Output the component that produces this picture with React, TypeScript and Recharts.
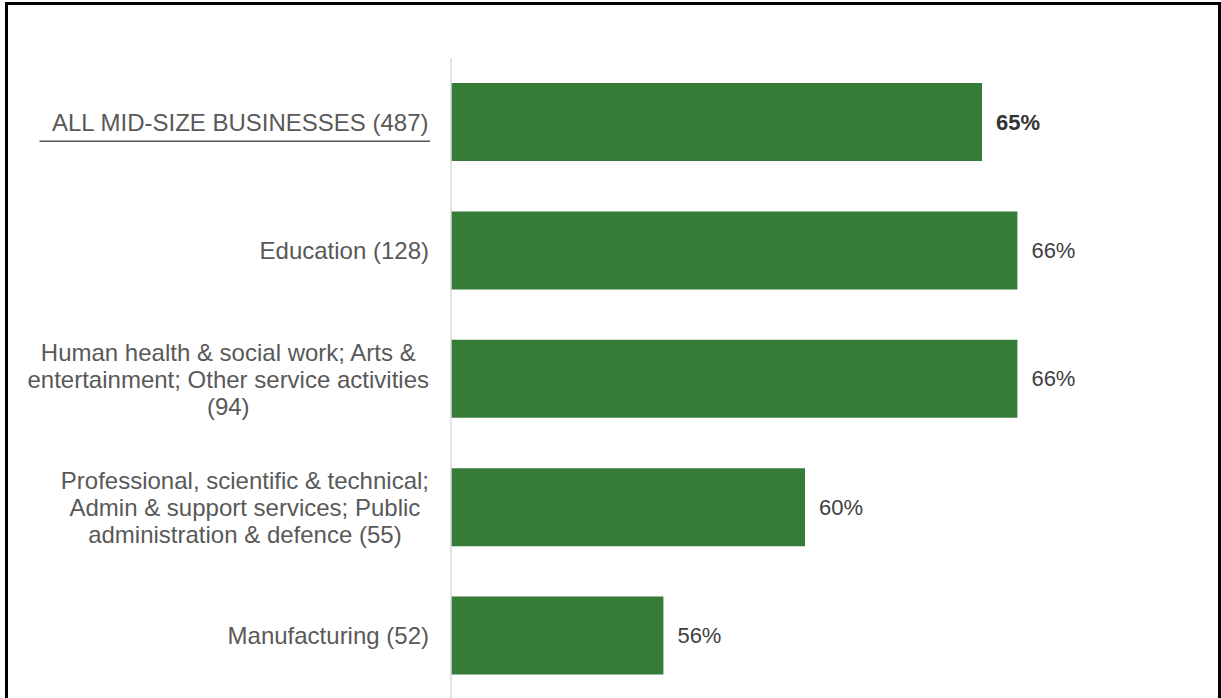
import { BarChart, Bar, XAxis, YAxis, LabelList } from "recharts";

// category labels, already broken into the lines the reference shows
const categories: string[][] = [
  ["ALL MID-SIZE BUSINESSES (487)"],
  ["Education (128)"],
  ["Human health & social work; Arts &", "entertainment; Other service activities", "(94)"],
  ["Professional, scientific & technical;", "Admin & support services; Public", "administration & defence (55)"],
  ["Manufacturing (52)"],
];
const values = [65, 66, 66, 60, 56];

const data = categories.map((lines, i) => ({ name: lines.join(" "), lines, value: values[i] }));

const FONT = "'Liberation Sans', Arial, sans-serif";
const LABEL_SIZE = 24;
const LINE_H = 27;

let ctx: CanvasRenderingContext2D | null = null;
function textWidth(s: string, size: number, weight = "normal"): number {
  if (!ctx) ctx = document.createElement("canvas").getContext("2d");
  if (!ctx) return s.length * size * 0.5;
  ctx.font = `${weight} ${size}px ${FONT}`;
  return ctx.measureText(s).width;
}

function CategoryTick(props: any) {
  const { x, y, payload, index } = props;
  const item = data.find((d) => d.name === payload.value);
  const lines = item ? item.lines : [String(payload.value)];
  const widest = Math.max(...lines.map((l) => textWidth(l, LABEL_SIZE)));
  const cx = x - widest / 2;
  const top = y - ((lines.length - 1) * LINE_H) / 2;
  return (
    <g>
      <text
        x={cx}
        y={top}
        textAnchor="middle"
        fill="#595959"
        fontSize={LABEL_SIZE}
        fontFamily={FONT}
      >
        {lines.map((l, i) => (
          <tspan key={i} x={cx} y={top + i * LINE_H} dominantBaseline="central">
            {l}
          </tspan>
        ))}
      </text>
      {index === 0 && (
        <line x1={x - widest - 12} x2={x + 1} y1={y + 19} y2={y + 19} stroke="#555" strokeWidth={1.5} />
      )}
    </g>
  );
}

function ValueLabel(props: any) {
  const { x, y, width, height, value, index } = props;
  return (
    <text
      x={x + width + 14}
      y={y + height / 2}
      dominantBaseline="central"
      fill={index === 0 ? "#333" : "#404040"}
      fontWeight={index === 0 ? "bold" : "normal"}
      fontSize={22}
      fontFamily={FONT}
    >
      {`${value}%`}
    </text>
  );
}

export default function App() {
  return (
    <div
      style={{
        position: "absolute",
        left: 0,
        top: 0,
        width: 1221,
        height: 698,
        overflow: "hidden",
        background: "#fff",
      }}
    >
      <div
        style={{
          position: "absolute",
          left: 5,
          top: 2,
          width: 1210,
          height: 710,
          borderTop: "3px solid #000",
          borderLeft: "3px solid #000",
          borderRight: "3px solid #000",
        }}
      />
      <div style={{ position: "absolute", left: 0, top: 0 }}>
        <BarChart
          width={1221}
          height={700}
          data={data}
          layout="vertical"
          margin={{ top: 58, right: 62, bottom: 0, left: 0 }}
          barSize={78}
        >
          <XAxis type="number" domain={[50, 70]} hide />
          <YAxis
            type="category"
            dataKey="name"
            width={451}
            axisLine={{ stroke: "#d9d9d9", strokeWidth: 1.5 }}
            tickLine={false}
            tickSize={6}
            tickMargin={16}
            tick={<CategoryTick />}
            interval={0}
          />
          <Bar dataKey="value" fill="#377b38" isAnimationActive={false}>
            <LabelList dataKey="value" content={<ValueLabel />} />
          </Bar>
        </BarChart>
      </div>
    </div>
  );
}
